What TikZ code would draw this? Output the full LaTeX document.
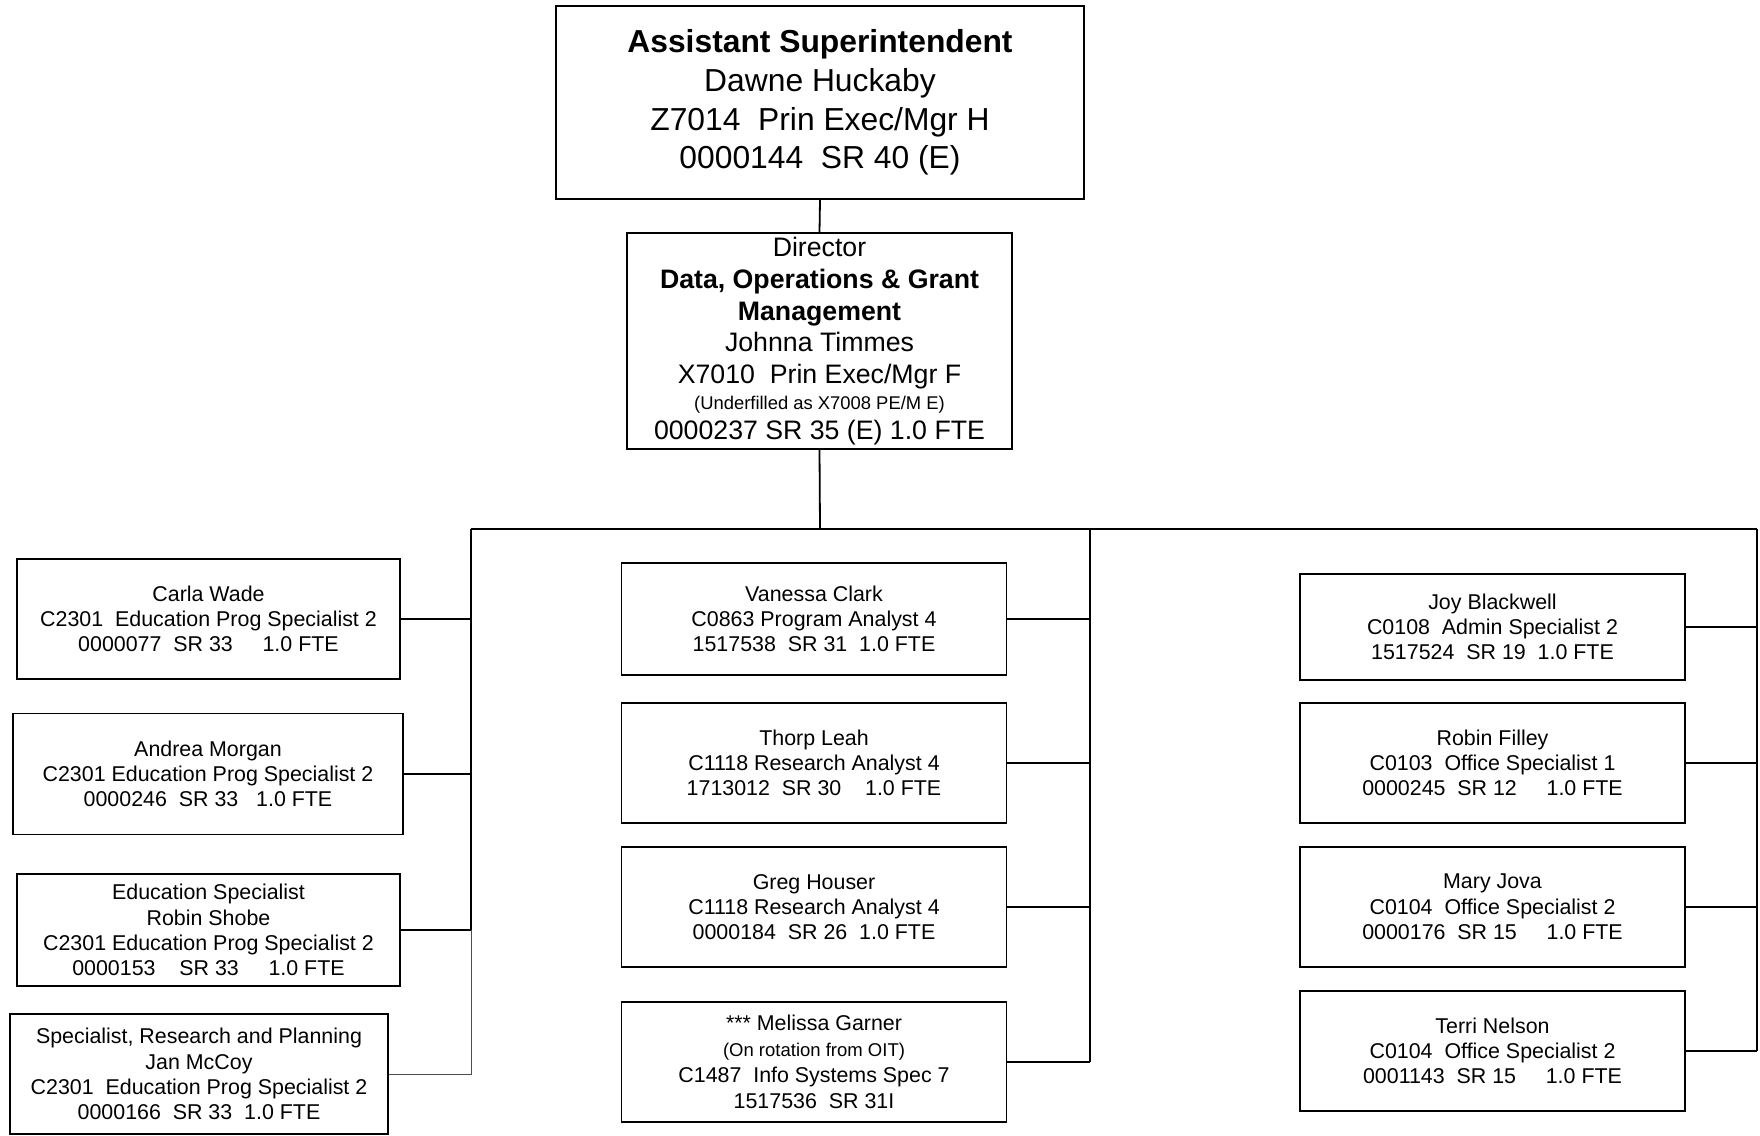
\documentclass[tikz,border=0pt]{standalone}
\usepackage{fontspec}
\setmainfont{Liberation Sans}
\begin{document}
\begin{tikzpicture}[x=1pt,y=-1pt,
  box/.style={draw=black,line width=1.8pt,inner sep=0pt,align=center,
    font=\fontsize{21.4}{25.3}\selectfont},
  smallbox/.style={box,minimum width=383pt,minimum height=120pt},
  conn/.style={line width=1.8pt},
  thinconn/.style={line width=1pt,draw=black!70}]
\useasboundingbox (0,0) rectangle (1760,1135);

% top levels
\node[box,minimum width=528pt,minimum height=193pt,font=\fontsize{31.8}{38.7}\selectfont] (top) at (820,102.5)
  {\textbf{Assistant Superintendent}\\Dawne Huckaby\\Z7014~ Prin Exec/Mgr H\\0000144~ SR 40 (E)};
\node[box,minimum width=385pt,minimum height=216pt,font=\fontsize{26.7}{31.8}\selectfont] (dir) at (819.5,341)
  {Director\\\textbf{Data, Operations \& Grant}\\\textbf{Management}\\Johnna Timmes\\X7010~ Prin Exec/Mgr F\\[-6pt]
   {\fontsize{18.4}{20}\selectfont (Underfilled as X7008 PE/M E)}\\[-2pt]0000237 SR 35 (E) 1.0 FTE};

% left column
\node[smallbox,minimum height=120pt] (carla) at (208.5,619)
  {Carla Wade\\C2301~ Education Prog Specialist 2\\0000077~ SR 33~~~~ 1.0 FTE};
\node[smallbox,minimum width=390pt,minimum height=121pt] (andrea) at (208,774)
  {Andrea Morgan\\C2301 Education Prog Specialist 2\\0000246~ SR 33~~ 1.0 FTE};
\node[smallbox,minimum height=112pt] (shobe) at (208.5,930)
  {Education Specialist\\Robin Shobe\\C2301 Education Prog Specialist 2\\0000153~~~ SR 33~~~~ 1.0 FTE};
\node[smallbox,minimum width=378pt,minimum height=120pt] (jan) at (199,1074)
  {Specialist, Research and Planning\\Jan McCoy\\C2301~ Education Prog Specialist 2\\0000166~ SR 33~ 1.0 FTE};

% middle column
\node[smallbox,minimum width=385pt,minimum height=112pt] (vanessa) at (814,619)
  {Vanessa Clark\\C0863 Program Analyst 4\\1517538~ SR 31~ 1.0 FTE};
\node[smallbox,minimum width=385pt] (thorp) at (814,763)
  {Thorp Leah\\C1118 Research Analyst 4\\1713012~ SR 30~~~ 1.0 FTE};
\node[smallbox,minimum width=385pt] (greg) at (814,907)
  {Greg Houser\\C1118 Research Analyst 4\\0000184~ SR 26~ 1.0 FTE};
\node[smallbox,minimum width=385pt,font=\fontsize{21.4}{25.8}\selectfont] (melissa) at (814,1062)
  {*** Melissa Garner\\{\fontsize{18.5}{20}\selectfont (On rotation from OIT)}\\C1487~ Info Systems Spec 7\\1517536~ SR 31I};

% right column
\node[smallbox,minimum width=385pt,minimum height=106pt] (joy) at (1492.5,627)
  {Joy Blackwell\\C0108~ Admin Specialist 2\\1517524~ SR 19~ 1.0 FTE};
\node[smallbox,minimum width=385pt] (filley) at (1492.5,763)
  {Robin Filley\\C0103~ Office Specialist 1\\0000245~ SR 12~~~~ 1.0 FTE};
\node[smallbox,minimum width=385pt] (mary) at (1492.5,907)
  {Mary Jova\\C0104~ Office Specialist 2\\0000176~ SR 15~~~~ 1.0 FTE};
\node[smallbox,minimum width=385pt] (terri) at (1492.5,1051)
  {Terri Nelson\\C0104~ Office Specialist 2\\0001143~ SR 15~~~~ 1.0 FTE};

% bus coordinates
\coordinate (bj) at (820,529);
\coordinate (bl) at (471,529);
\coordinate (bm) at (1090,529);
\coordinate (br) at (1757,529);

% connectors
\draw[conn] (top.south) -- (dir.north);
\draw[conn] (dir.south) -- (bj);
\draw[conn] (bl) -- (br);

\draw[conn] (bl) -- (bl |- shobe.east);
\draw[conn] (carla.east) -- (carla.east -| bl);
\draw[conn] (andrea.east) -- (andrea.east -| bl);
\draw[conn] (shobe.east) -- (shobe.east -| bl);
\draw[thinconn] (jan.east) -| (bl |- shobe.east);

\draw[conn] (bm) -- (bm |- melissa.east);
\draw[conn] (vanessa.east) -- (vanessa.east -| bm);
\draw[conn] (thorp.east) -- (thorp.east -| bm);
\draw[conn] (greg.east) -- (greg.east -| bm);
\draw[conn] (melissa.east) -- (melissa.east -| bm);

\draw[conn] (br) -- (br |- terri.east);
\draw[conn] (joy.east) -- (joy.east -| br);
\draw[conn] (filley.east) -- (filley.east -| br);
\draw[conn] (mary.east) -- (mary.east -| br);
\draw[conn] (terri.east) -- (terri.east -| br);
\end{tikzpicture}
\end{document}
